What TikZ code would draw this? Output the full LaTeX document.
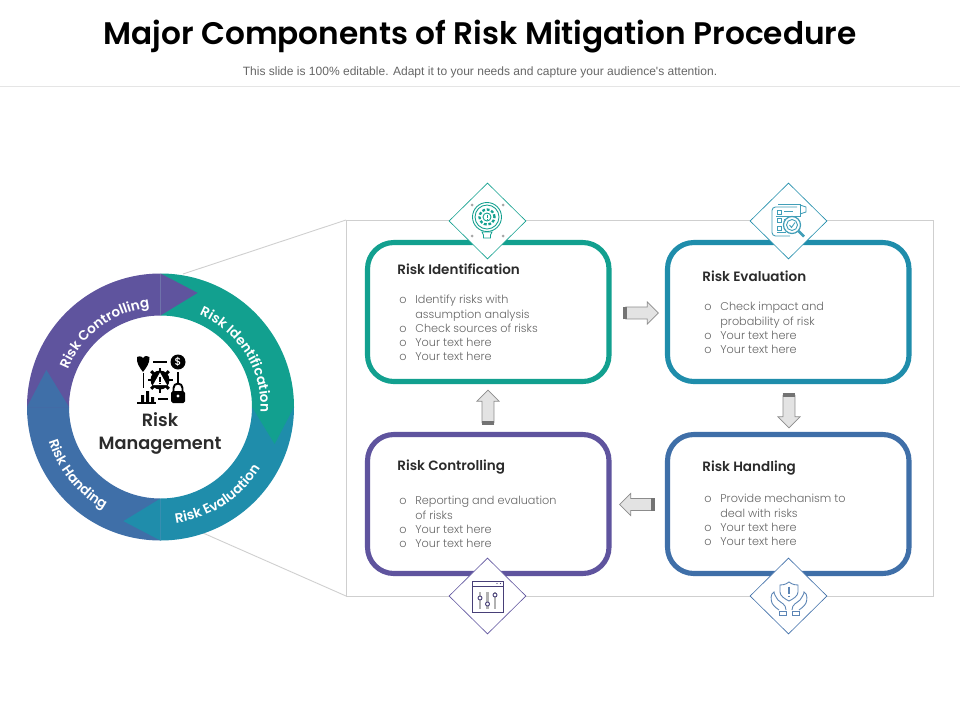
\documentclass[tikz,border=0pt]{standalone}
\usepackage{fontspec}
\setmainfont{Poppins Light}
\newfontfamily\headfont{Poppins Medium}
\newfontfamily\boldfont{Poppins SemiBold}
\newfontfamily\subfont{Liberation Sans}
\usetikzlibrary{shapes.arrows}
\usetikzlibrary{shapes.geometric}
\usetikzlibrary{decorations.text}
\definecolor{tealc}{HTML}{12A08F}
\definecolor{bluec}{HTML}{1F8DAB}
\definecolor{steelc}{HTML}{3F6FA8}
\definecolor{purplec}{HTML}{5F549E}
\definecolor{bodyc}{HTML}{666666}
\definecolor{darkc}{HTML}{2B2B2B}
\definecolor{framec}{HTML}{CFCFCF}
\newcommand{\bitem}[1]{\makebox[9.1pt][l]{o}#1\\}
\newcommand{\bcont}[1]{\hspace*{9.1pt}#1\\}
\newcommand{\ringfont}{\boldfont\fontsize{7.7}{10}\selectfont\color{white}}

\begin{document}
\begin{tikzpicture}
[x=0.02cm,y=0.02cm,%
  boxline/.style={line width=2.9pt,rounded corners=15pt},%
  heading/.style={anchor=west,inner sep=0pt,text=darkc,font=\boldfont\fontsize{7.7}{9}\selectfont},%
  bodytext/.style={anchor=north west,inner sep=0pt,align=left,text=bodyc,font=\fontsize{6.4}{8.12}\selectfont},%
  badge/.style={shape=diamond,fill=white,draw,line width=0.35pt,inner sep=0pt,minimum width=1.54cm,minimum height=1.52cm},%
  blockarrow/.style={shape=single arrow,draw=black!45,fill=black!11,line width=0.4pt,inner sep=3.2pt,
    minimum height=18.6pt,single arrow head extend=2.9pt,single arrow tip angle=90},%
  band/.style={draw=black!55,line width=2.2pt},%
  ringword/.style={decorate}]
\useasboundingbox (0,0) rectangle (960,-720);
\fill[white] (0,0) rectangle (960,-720);
%% header
\node[inner sep=0pt,text=black,font=\boldfont\fontsize{17.75}{20}\selectfont] (title) at (480,-37)
  {Major Components of Risk Mitigation Procedure};
\node[inner sep=0pt,text=black!60,font=\subfont\fontsize{6.85}{8}\selectfont] (subtitle) at (480,-72)
  {This slide is 100\% editable. Adapt it to your needs and capture your audience's attention.};
\coordinate (ruleL) at (0,-86);
\coordinate (ruleR) at (960,-86);
\draw[black!10,line width=0.5pt] (ruleL) -- (ruleR);
%% frame and the two lines from the ring
\coordinate (frameNW) at (346,-220);
\coordinate (frameSE) at (933,-596);
\coordinate (frameSW) at (346,-596);
\coordinate (ringTop) at (183,-274);
\coordinate (ringBot) at (203,-533);
\draw[framec,line width=0.5pt] (frameNW) rectangle (frameSE);
\draw[framec,line width=0.5pt] (ringTop) -- (frameNW);
\draw[framec,line width=0.5pt] (ringBot) -- (frameSW);
%% ring
\begin{scope}[shift={(160.5,-407)}]
\foreach \segColor/\segEnd in {tealc/0, bluec/-90, steelc/-180, purplec/90}
{
  \fill[\segColor] (\segEnd+90:133.5) arc[start angle=\segEnd+90,end angle=\segEnd,radius=133.5]
    -- (\segEnd:91.5) arc[start angle=\segEnd,end angle=\segEnd+90,radius=91.5] -- cycle;
}
\foreach \segColor/\segEnd in {tealc/0, bluec/-90, steelc/-180, purplec/90}
{
  \fill[\segColor] (\segEnd:133.5) -- (\segEnd-18:120) -- (\segEnd:91.5) -- cycle;
}
\path[ringword,decoration={text along path,text align=center,
  text={|\ringfont|Risk Controlling}}]
  (172:100) arc[start angle=172,end angle=82,radius=100];
\path[ringword,decoration={text along path,text align=center,
  text={|\ringfont|Risk Identification}}]
  (77:100) arc[start angle=77,end angle=-13,radius=100];
\path[ringword,decoration={text along path,text align=center,
  text={|\ringfont|Risk Evaluation}}]
  (-102:117) arc[start angle=-102,end angle=-12,radius=117];
\path[ringword,decoration={text along path,text align=center,
  text={|\ringfont|Risk Handing}}]
  (175:117) arc[start angle=175,end angle=263,radius=117];
\end{scope}
%% centre of the ring
\node[inner sep=0pt,align=center,text=darkc,font=\boldfont\fontsize{10.1}{13}\selectfont] (ringLabel) at (160,-433.5)
  {Risk\\Management};
\begin{scope}[black]
\fill (137,-357) .. controls (141,-355) and (143,-358) .. (143,-358) .. controls (145,-355) and (148,-356) .. (149.5,-357)
  .. controls (150,-363) and (146,-368) .. (143,-372) .. controls (140,-368) and (136,-363) .. (137,-357) -- cycle;
\fill (178,-362) circle (7.5);
\node[inner sep=0pt,text=white,font=\headfont\fontsize{6}{6}\selectfont] (dollar) at (178,-362) {\$};
\draw[line width=0.8pt] (153,-362) -- (167,-362) (143.5,-373) -- (143.5,-388) (178,-372) -- (178,-384)
  (158,-399) -- (168,-399) (137,-403) -- (156,-403);
\fill (160,-380) circle (9.5);
\foreach \toothAngle in {0,45,...,315}
  \draw[line width=1.7pt] (160,-380) ++(\toothAngle:8) -- ++(\toothAngle:4.5);
\fill[white] (160,-372.5) -- (167,-385) -- (153,-385) -- cycle;
\draw[line width=0.9pt] (160,-376.5) -- (160,-381.5) (160,-382.5) -- (160,-384);
\draw[line width=1.1pt] (173.5,-393) -- (173.5,-388) arc[start angle=180,end angle=0,radius=4.5] -- (182.5,-393);
\fill[rounded corners=1pt] (171,-391) rectangle (185,-403);
\fill[white] (178,-396) circle (1.6);
\fill (141,-402) rectangle (144,-395) (146,-402) rectangle (149,-391) (151,-402) rectangle (154,-397);
\end{scope}
%% boxes
\draw[boxline,tealc] (367.5,-242.5) rectangle (609,-381.5);
\draw[boxline,bluec] (667.5,-242.5) rectangle (909,-381.5);
\draw[boxline,purplec] (367.5,-434.5) rectangle (609,-573.5);
\draw[boxline,steelc] (667.5,-434.5) rectangle (909,-573.5);
%% box texts
\node[heading] (headIdent) at (397,-269) {Risk Identification};
\node[bodytext] (bodyIdent) at (399,-295) {\bitem{Identify risks with}\bcont{assumption analysis}\bitem{Check sources of risks}\bitem{Your text here}\bitem{Your text here}};
\node[heading] (headEval) at (702,-276) {Risk Evaluation};
\node[bodytext] (bodyEval) at (704,-302) {\bitem{Check impact and}\bcont{probability of risk}\bitem{Your text here}\bitem{Your text here}};
\node[heading] (headCtrl) at (397,-467) {Risk Controlling};
\node[bodytext] (bodyCtrl) at (399,-496) {\bitem{Reporting and evaluation}\bcont{of risks}\bitem{Your text here}\bitem{Your text here}};
\node[heading] (headHand) at (702,-468) {Risk Handling};
\node[bodytext] (bodyHand) at (704,-494) {\bitem{Provide mechanism to}\bcont{deal with risks}\bitem{Your text here}\bitem{Your text here}};
%% arrows between the boxes
\node[blockarrow] (arrowA) at (639,-313) {};
\node[blockarrow,rotate=-90] (arrowB) at (789,-408.5) {};
\node[blockarrow,rotate=180] (arrowC) at (639,-504.5) {};
\node[blockarrow,rotate=90] (arrowD) at (488,-409.5) {};
\foreach \arrowName in {arrowA,arrowB,arrowC,arrowD}
  \draw[band] (\arrowName.before tail) -- (\arrowName.after tail);
%% badges
\node[badge,draw=tealc] (badgeIdent) at (487.5,-221) {};
\node[badge,draw=bluec] (badgeEval) at (788.5,-221) {};
\node[badge,draw=purplec] (badgeCtrl) at (487.5,-596) {};
\node[badge,draw=steelc] (badgeHand) at (788.5,-596) {};
%% gauge icon
\begin{scope}[tealc,line width=0.5pt]
\draw (487,-217) circle (14.5) (487,-217) circle (12);
\draw[line width=1.3pt,dash pattern=on 1.6pt off 1pt] (487,-217) circle (7.5);
\draw (487,-217) circle (4);
\draw (487,-214.5) -- (487,-218) (487,-219) -- (487,-220);
\draw (482,-232) -- (492,-232) -- (490.5,-235) -- (490.5,-238) -- (483.5,-238) -- (483.5,-235) -- cycle;
\foreach \dotX/\dotY in {472/-205,503/-205,472/-236,503/-236}
  \fill[black!35] (\dotX,\dotY) circle (1.5);
\end{scope}
%% checklist icon
\begin{scope}[bluec!85,line width=0.5pt]
\draw[rounded corners=2pt] (797,-207) -- (772,-207) -- (772,-236) -- (790,-236);
\draw (778,-204) -- (800,-204) -- (800,-216) -- (776,-216);
\draw (800,-205) -- (806,-207) -- (806,-212) -- (800,-214);
\foreach \rowY in {-210,-218,-226}
{
  \draw (777,\rowY) rectangle (781,\rowY-4);
  \draw (784,\rowY-1) -- (793,\rowY-1);
}
\draw (777,-232) -- (786,-232);
\draw[fill=white,line width=0.7pt] (792,-225) circle (8.5);
\draw (792,-225) circle (5.5);
\draw (789.5,-225) -- (791.5,-227.5) -- (795,-222.5);
\draw[line width=1.5pt] (798.5,-231) -- (804,-236.5);
\end{scope}
%% sliders icon
\begin{scope}[black!25!purplec,line width=0.5pt]
\draw (472,-581) rectangle (503.5,-612);
\draw (472,-586) -- (503.5,-586);
\fill (497,-583.5) circle (0.7) (500.5,-583.5) circle (0.7);
\foreach \sliderX/\knobY in {480/-598,487.5/-604,495/-595}
{
  \draw[black!30,line width=1.4pt] (\sliderX,-592) -- (\sliderX,-609);
  \draw[fill=white] (\sliderX,\knobY) circle (2);
}
\end{scope}
%% hands icon
\begin{scope}[steelc!85,line width=0.5pt]
\draw (789,-582) .. controls (785,-585) and (782,-585) .. (780,-585) -- (780,-592)
  .. controls (780,-596) and (785,-599) .. (789,-601) .. controls (793,-599) and (798,-596) .. (798,-592)
  -- (798,-585) .. controls (796,-585) and (793,-585) .. (789,-582) -- cycle;
\draw[line width=1pt] (789,-586.5) -- (789,-594) (789,-595.5) -- (789,-597);
\foreach \handSide in {1,-1}
{
  \begin{scope}[shift={(789,0)},xscale=\handSide]
  \draw (-3,-610) .. controls (-3,-604) and (-8,-603) .. (-11,-600) .. controls (-13,-597) and (-15,-594) .. (-15,-592)
    .. controls (-19,-594) and (-18,-600) .. (-17,-603) .. controls (-15,-607) and (-11,-609) .. (-10,-610);
  \draw (-3,-611) rectangle (-10,-615);
  \end{scope}
}
\end{scope}
\end{tikzpicture}
\end{document}
